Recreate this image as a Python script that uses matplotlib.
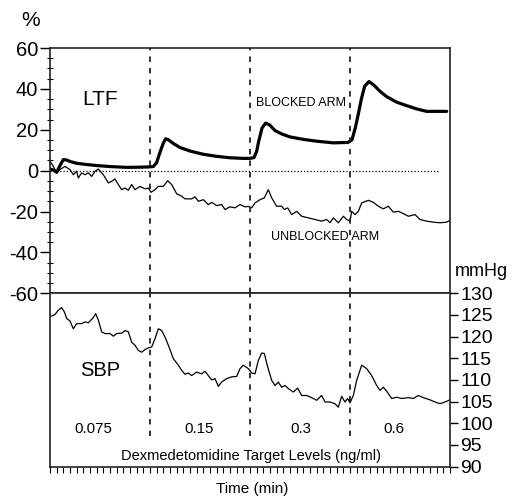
import matplotlib
matplotlib.use("Agg")
import matplotlib.pyplot as plt
from matplotlib.ticker import MultipleLocator

plt.rcParams['font.family'] = ['Liberation Sans', 'DejaVu Sans']
plt.rcParams['axes.unicode_minus'] = False

# ---------------- data ----------------
# (time min, LTF %) blocked arm
blocked_points = [
    (0.0, 0.8), (0.5, 0.3), (1.0, -0.8), (1.5, 2.5), (2.0, 5.4), (2.5, 5.2), (3.0, 4.5),
    (4.0, 3.6), (5.5, 3.0), (7.0, 2.5), (9.0, 2.0), (11.5, 1.6), (13.5, 1.7), (14.7, 1.8),
    (15.5, 2.0), (16.0, 4.0), (16.5, 9.0), (17.0, 13.5), (17.35, 15.6), (17.8, 15.0),
    (18.5, 13.3), (19.5, 11.3), (21.0, 9.6), (23.0, 8.0), (25.0, 7.0), (27.0, 6.3),
    (29.0, 6.0), (30.0, 6.0), (30.6, 6.4), (31.0, 9.5), (31.3, 14.3), (31.8, 20.8),
    (32.35, 23.3), (33.0, 22.2), (33.75, 19.6), (34.8, 17.9), (36.0, 16.5), (38.0, 15.3),
    (40.0, 14.4), (42.5, 13.6), (44.7, 13.8), (45.3, 15.1), (45.8, 21.0), (46.3, 28.5),
    (46.7, 35.0), (47.2, 41.3), (47.85, 43.6), (48.6, 41.8), (49.5, 38.8), (50.5, 36.2),
    (52.0, 33.5), (53.5, 31.8), (55.0, 30.2), (56.5, 29.0), (58.0, 29.0), (59.5, 29.0),
]

# (time min, LTF %) unblocked arm
unblocked_points = [
    (0.0, 4.6), (0.5, 2.1), (1.0, -1.1), (1.5, 0.5), (2.25, 2.1), (3.0, 0.5), (3.5, -2.0),
    (4.0, -0.3), (4.25, -3.6), (4.75, -1.1), (5.25, -2.0), (5.75, -1.1), (6.25, -2.8),
    (6.75, -0.3), (7.25, 0.8), (8.0, -2.0), (8.75, -6.0), (9.25, -5.2), (9.75, -4.1),
    (10.25, -6.8), (10.75, -9.3), (11.25, -8.5), (11.75, -9.6), (12.25, -6.8), (12.75, -9.3),
    (13.5, -7.7), (14.25, -8.9), (14.75, -8.5), (15.15, -10.6), (15.75, -9.3), (16.25, -7.7),
    (17.0, -7.7), (17.65, -4.9), (18.25, -6.8), (19.0, -11.3), (19.75, -12.5), (20.25, -13.8),
    (21.25, -13.8), (21.75, -12.8), (22.25, -15.0), (23.0, -14.2), (23.75, -16.6),
    (24.25, -15.5), (25.0, -17.1), (25.75, -16.6), (26.25, -19.0), (27.0, -17.7),
    (27.75, -18.2), (28.5, -16.6), (29.25, -17.7), (29.75, -17.5), (30.25, -18.2),
    (30.75, -15.8), (31.5, -14.2), (32.15, -13.3), (32.75, -9.3), (33.25, -13.3),
    (34.0, -17.4), (34.75, -17.4), (35.15, -19.0), (35.65, -18.2), (36.25, -21.5),
    (37.0, -19.9), (37.75, -22.3), (38.75, -23.1), (39.75, -23.9), (40.75, -24.7),
    (41.5, -23.9), (42.0, -25.5), (42.5, -23.1), (43.25, -25.5), (44.0, -22.3),
    (44.5, -23.9), (45.0, -24.7), (45.25, -19.9), (45.75, -21.5), (46.25, -19.9),
    (46.75, -15.8), (47.75, -14.5), (48.5, -15.5), (49.25, -17.4), (50.0, -18.7),
    (50.75, -17.4), (51.5, -20.3), (52.25, -19.9), (53.0, -21.0), (53.75, -22.3),
    (54.75, -21.5), (55.5, -23.9), (56.5, -24.7), (57.5, -25.2), (58.5, -25.5),
    (59.5, -25.2), (60.0, -24.3),
]

# (time min, SBP mmHg)
sbp_points = [
    (0.15, 124.7), (0.75, 125.1), (1.25, 126.1), (1.75, 126.7), (2.15, 125.7), (2.5, 124.2),
    (3.0, 123.6), (3.5, 121.8), (4.0, 123.0), (4.75, 123.0), (5.25, 123.4), (5.75, 123.2),
    (6.5, 124.4), (6.85, 125.3), (7.25, 123.8), (7.75, 121.1), (8.25, 120.7), (9.0, 120.7),
    (9.5, 120.1), (10.0, 120.7), (10.75, 120.8), (11.25, 121.4), (11.75, 121.1),
    (12.25, 118.7), (12.75, 118.0), (13.25, 116.8), (13.75, 116.4), (14.25, 117.0),
    (14.75, 117.4), (15.25, 117.6), (15.75, 119.5), (16.25, 121.8), (16.75, 121.4),
    (17.25, 119.9), (17.75, 118.0), (18.5, 114.9), (19.25, 113.4), (19.75, 112.2),
    (20.25, 111.3), (20.75, 111.6), (21.25, 111.0), (22.0, 111.8), (22.75, 111.4),
    (23.25, 112.0), (23.75, 111.0), (24.25, 110.0), (24.75, 110.3), (25.25, 108.5),
    (25.75, 109.5), (26.5, 110.3), (27.25, 110.7), (28.0, 110.8), (28.5, 112.6),
    (29.0, 113.4), (29.75, 112.6), (30.25, 111.6), (30.75, 111.4), (31.25, 114.5),
    (31.75, 116.2), (32.15, 116.1), (32.65, 113.0), (33.25, 109.9), (33.75, 108.7),
    (34.25, 109.5), (34.75, 108.3), (35.25, 108.7), (35.75, 108.0), (36.5, 107.2),
    (37.15, 108.1), (37.75, 106.4), (38.5, 106.4), (39.25, 105.9), (40.0, 105.3),
    (40.75, 106.4), (41.25, 104.9), (42.0, 104.9), (42.75, 104.5), (43.25, 103.7),
    (43.75, 106.2), (44.25, 104.9), (44.65, 105.7), (45.0, 104.7), (45.5, 106.4),
    (46.0, 109.9), (46.75, 113.4), (47.5, 112.6), (48.25, 111.0), (49.0, 108.7),
    (49.5, 107.6), (50.0, 108.3), (50.5, 107.4), (51.25, 105.7), (52.0, 106.0),
    (52.75, 105.7), (53.75, 105.9), (54.5, 105.7), (55.25, 106.4), (56.0, 105.9),
    (57.0, 105.4), (57.75, 104.9), (58.5, 104.5), (59.25, 104.9), (59.85, 105.3),
]

blocked_t = [p[0] for p in blocked_points]
blocked_v = [p[1] for p in blocked_points]
unblocked_t = [p[0] for p in unblocked_points]
unblocked_v = [p[1] for p in unblocked_points]
sbp_t = [p[0] for p in sbp_points]
sbp_v = [p[1] for p in sbp_points]

phase_boundaries = [15, 30, 45]
dose_labels = ["0.075", "0.15", "0.3", "0.6"]
dose_x = [6.45, 22.35, 37.65, 51.6]
ltf_ticks = [-60, -40, -20, 0, 20, 40, 60]
sbp_ticks = [90, 95, 100, 105, 110, 115, 120, 125, 130]

# ---------------- figure ----------------
W, H = 515, 499
fig = plt.figure(figsize=(W / 100, H / 100), dpi=100)

L, R = 50 / W, 450 / W
y_top, y_mid, y_bot = 48, 293.3, 466.5
ax1 = fig.add_axes([L, 1 - y_mid / H, R - L, (y_mid - y_top) / H])
ax2 = fig.add_axes([L, 1 - y_bot / H, R - L, (y_bot - y_mid) / H])

spine_lw = 1.2
for ax in (ax1, ax2):
    ax.set_xlim(0, 60)
    for s in ax.spines.values():
        s.set_linewidth(spine_lw)
        s.set_color('#222222')

# top panel (LTF %)
ax1.set_ylim(-60, 60)
ax1.set_yticks(ltf_ticks)
ax1.yaxis.set_minor_locator(MultipleLocator(5))
ax1.tick_params(axis='y', which='major', direction='out', length=7, width=1.0,
                labelsize=14.5, pad=1.5)
ax1.tick_params(axis='y', which='minor', direction='inout', length=4, width=0.8)
ax1.set_xticks([])

ax1.plot(blocked_t, blocked_v, color='black', lw=2.3, solid_joinstyle='round',
         solid_capstyle='round')
ax1.plot(unblocked_t, unblocked_v, color='black', lw=0.9)
ax1.plot([0, 58.2], [0, 0], color='black', lw=0.9, linestyle=(0, (1, 1.6)))

for xb in phase_boundaries:
    ax1.axvline(xb, color='#222222', lw=1.3, linestyle=(0, (3, 3.4)))
    ax2.plot([xb, xb], [97.0, 130], color='#222222', lw=1.3, linestyle=(0, (3, 3.4)))

ax1.text(7.5, 34.6, "LTF", fontsize=15, ha='center', va='center')
ax1.text(37.65, 33.2, "BLOCKED ARM", fontsize=9, ha='center', va='center')
ax1.text(41.25, -32.7, "UNBLOCKED ARM", fontsize=9, ha='center', va='center')

# bottom panel (SBP mmHg)
ax2.set_ylim(90, 130)
ax2.yaxis.tick_right()
ax2.set_yticks(sbp_ticks)
ax2.tick_params(axis='y', which='major', direction='out', length=6, width=1.0,
                labelsize=14, pad=1.5)
ax2.set_xticks(range(0, 61))
ax2.tick_params(axis='x', which='major', direction='out', length=4.5, width=0.8,
                labelbottom=False)
ax2.plot(sbp_t, sbp_v, color='black', lw=0.9)

ax2.text(7.5, 112.2, "SBP", fontsize=14.5, ha='center', va='center')
for lab, xd in zip(dose_labels, dose_x):
    ax2.text(xd, 98.6, lab, fontsize=10.8, ha='center', va='center')
ax2.text(30.15, 92.5, "Dexmedetomidine Target Levels (ng/ml)", fontsize=10.5,
         ha='center', va='center')

fig.text(31 / W, 1 - 21 / H, "%", fontsize=15, ha='center', va='center')
fig.text(481 / W, 1 - 271 / H, "mmHg", fontsize=13, ha='center', va='center')
fig.text(252 / W, 1 - 489 / H, "Time (min)", fontsize=11, ha='center', va='center')

fig.savefig("out.png", dpi=100)
